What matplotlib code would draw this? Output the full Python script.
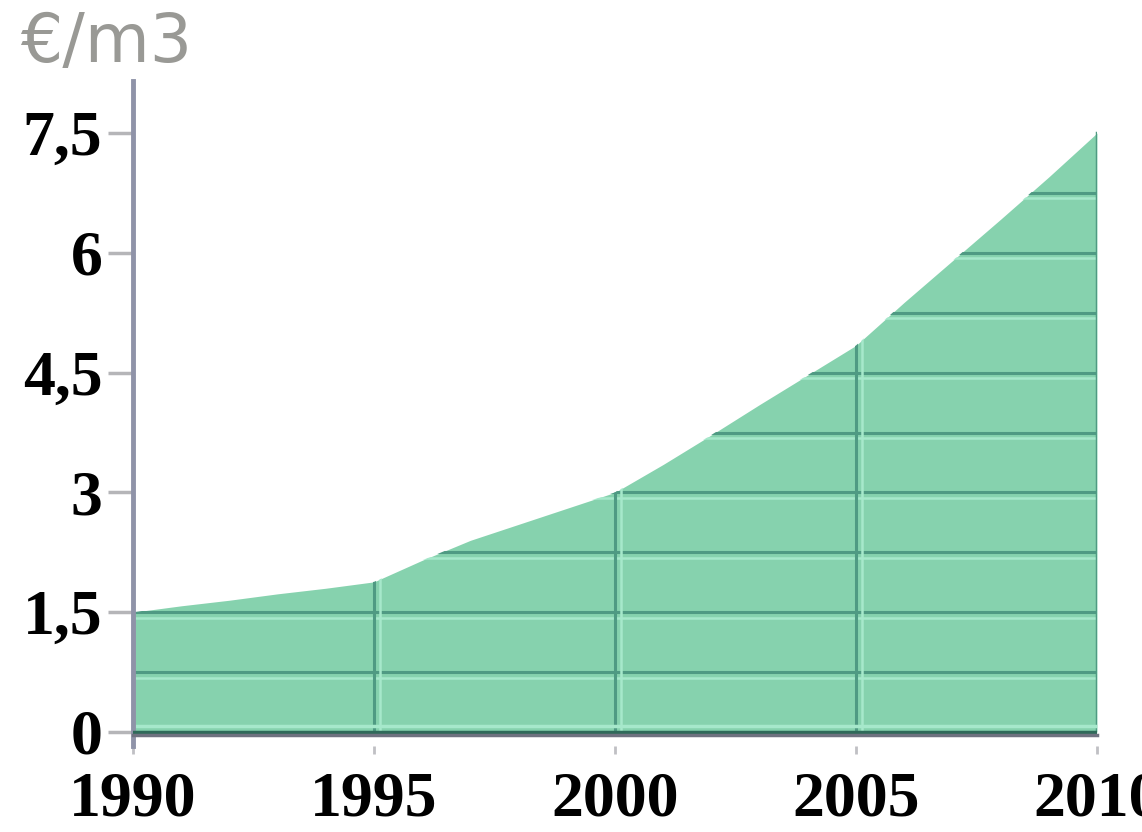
import numpy as np
import matplotlib.pyplot as plt
from matplotlib.patches import Polygon

# Prijs per m3
years = [1990, 1991, 1992, 1993, 1994, 1995, 1996, 1997, 1998, 1999, 2000,
         2001, 2002, 2003, 2004, 2005, 2006, 2007, 2008, 2009, 2010]
price = [1.50, 1.58, 1.65, 1.73, 1.80, 1.88, 2.15, 2.40, 2.60, 2.80, 3.00,
         3.35, 3.72, 4.10, 4.47, 4.84, 5.38, 5.90, 6.42, 6.95, 7.50]

ytick_vals = [0, 1.5, 3, 4.5, 6, 7.5]
ytick_labels = ["0", "1,5", "3", "4,5", "6", "7,5"]
xtick_vals = [1990, 1995, 2000, 2005, 2010]
grid_vals = np.arange(0.75, 7.5, 0.75)
unit = "€/m3"

W, H = 1142, 832
fig = plt.figure(figsize=(W / 100, H / 100), dpi=100)

# assen in pixels: 1990 -> x=133, 2010 -> x=1097, 0 -> y=732, 7.5 -> y=133
ymin, ymax = -0.18, 8.15
ppu = (732 - 133) / 7.5
bot_px = 732 + (0 - ymin) * ppu
top_px = 732 - ymax * ppu
ax = fig.add_axes([133 / W, (H - bot_px) / H, (1097 - 133) / W, (bot_px - top_px) / H])
ax.set_xlim(1990, 2010)
ax.set_ylim(ymin, ymax)

fill_col = "#86d2ae"
line_col = "#4f9a83"
light_col = "#a6e8cb"

ax.fill_between(years, 0, price, color=fill_col, lw=0, zorder=1)
poly = Polygon(list(zip(years, price)) + [(2010, 0), (1990, 0)], closed=True,
               transform=ax.transData, visible=False)
ax.add_patch(poly)

for g in grid_vals:
    l1, = ax.plot([1990, 2010], [g, g], color=line_col, lw=2.2, zorder=2)
    l2, = ax.plot([1990, 2010], [g - 0.07, g - 0.07], color=light_col, lw=1.8, zorder=2)
    l1.set_clip_path(poly)
    l2.set_clip_path(poly)
for xv in [1995, 2000, 2005]:
    l1, = ax.plot([xv, xv], [0, 8], color=line_col, lw=2.2, zorder=2)
    l2, = ax.plot([xv + 0.12, xv + 0.12], [0, 8], color=light_col, lw=1.8, zorder=2)
    l1.set_clip_path(poly)
    l2.set_clip_path(poly)
ax.plot([2010, 2010], [0, 7.5], color=line_col, lw=2.5, zorder=2)
ax.plot([1990, 2010], [0.07, 0.07], color=light_col, lw=2.5, zorder=2)
ax.plot([1990, 2010], [0, 0], color="#2f6a5a", lw=2.5, zorder=3)
ax.plot([1990, 2010], [-0.04, -0.04], color="#6f7280", lw=2.5, zorder=3, clip_on=False)

for s in ["top", "right", "bottom"]:
    ax.spines[s].set_visible(False)
ax.spines["left"].set_color("#8f93a8")
ax.spines["left"].set_linewidth(3.5)

ax.set_yticks(ytick_vals)
ax.set_yticklabels(ytick_labels, fontfamily="Liberation Serif", fontweight="bold", fontsize=46)
ax.set_yticks(grid_vals[1::2], minor=True)
ax.tick_params(axis="y", which="major", length=18, width=2.5, color="#b5b5b8", pad=4)
ax.tick_params(axis="y", which="minor", length=6, width=2, color="#c8c8cc")

ax.set_xticks(xtick_vals)
ax.set_xticklabels([str(x) for x in xtick_vals], fontfamily="Liberation Serif",
                   fontweight="bold", fontsize=46)
ax.tick_params(axis="x", length=6, width=2, color="#c0c0c4", pad=12)

fig.text(20 / W, 1 - 62 / H, unit, color="#999995", fontsize=48, fontfamily="DejaVu Sans")

fig.savefig("out.png", dpi=100)
